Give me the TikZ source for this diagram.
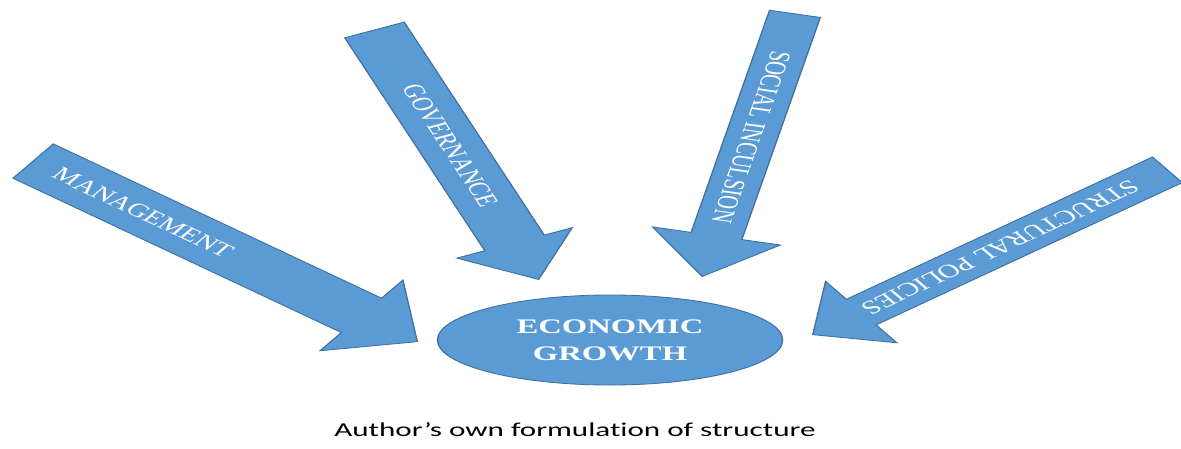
\documentclass[tikz,border=0pt]{standalone}
\usepackage{fontspec}
\setmainfont{Liberation Serif}
\newfontfamily\capfont[Ligatures=NoCommon]{Carlito}
\usetikzlibrary{shapes.arrows, shapes.geometric}
\definecolor{fillblue}{HTML}{5B9BD5}
\definecolor{lineblue}{HTML}{41719C}

\begin{document}
\begin{tikzpicture}[
    x=0.025cm, y=-0.025cm,
    factor/.style={single arrow, draw=lineblue, fill=fillblue, line width=0.6pt, text=white, anchor=tip,
        single arrow tip angle=90, inner xsep=2pt, text height=9pt, text depth=0pt,
        font=\fontsize{13.5}{16}\selectfont},
    goal/.style={ellipse, draw=lineblue, fill=fillblue, line width=0.6pt, text=white, align=center,
        inner sep=0pt, font=\bfseries\fontsize{14.7}{19.1}\selectfont}
]
\useasboundingbox (0,0) rectangle (1181,448);

% Everything is drawn narrow and stretched sideways
\begin{scope}[transform canvas={xscale=1.58}]

% Factor arrows
\node[factor, rotate=-36.6, minimum height=7.57cm, minimum width=2.18cm, inner ysep=10.4pt,
    single arrow head extend=0.566cm] (management) at (264.6,342) {MANAGEMENT\hspace*{2.7cm}};
\node[factor, rotate=-67.4, minimum height=6.755cm, minimum width=1.96cm, inner ysep=9.7pt,
    single arrow head extend=0.48cm] (governance) at (341.1,280) {GOVERNANCE};
\node[factor, rotate=-102.6, minimum height=6.725cm, minimum width=2.05cm, inner ysep=6.9pt,
    single arrow head extend=0.625cm] (inclusion) at (444.3,277) {SOCIAL INCULSION};
\node[factor, rotate=216.3, minimum height=6.96cm, minimum width=1.885cm, inner ysep=6.5pt,
    single arrow head extend=0.555cm] (structural) at (513.9,335) {STRUCTURAL POLICIES};

% Central node
\node[goal, minimum width=5.46cm, minimum height=2.25cm] (growth) at (386.1,340) {ECONOMIC\\GROWTH};

% Caption
\node[anchor=base, font=\capfont\fontsize{14}{17}\selectfont] (source) at (363.9,436) {Author’s own formulation of structure};

\end{scope}
\end{tikzpicture}
\end{document}
